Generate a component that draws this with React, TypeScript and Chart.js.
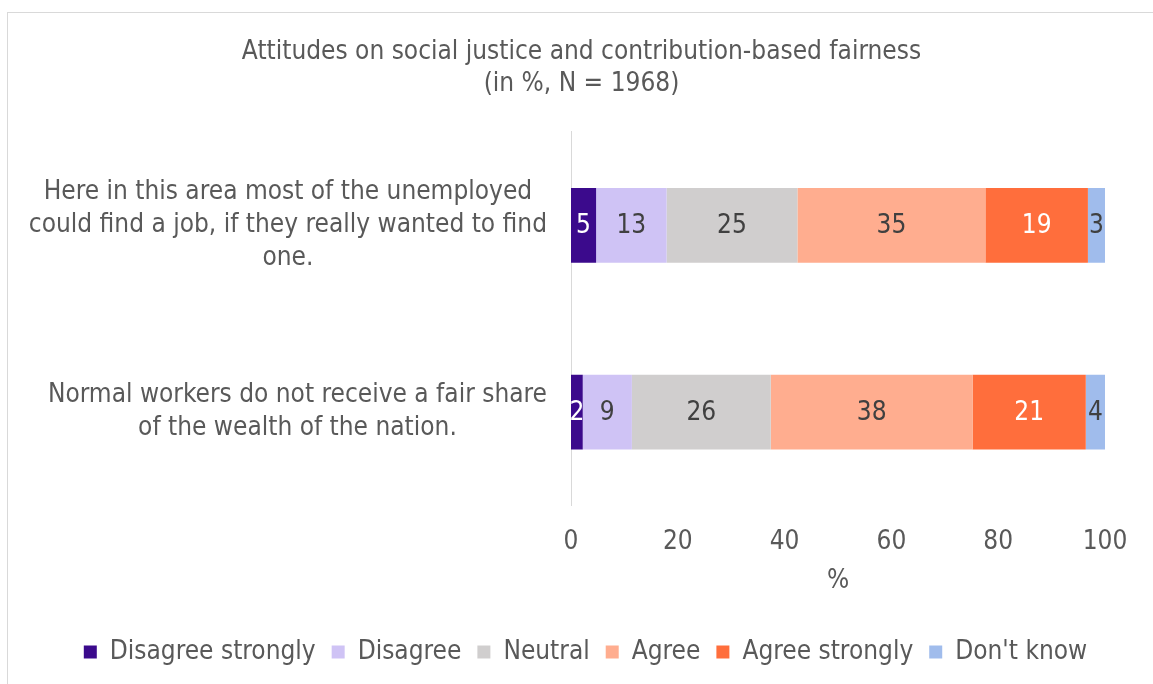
import React, { useEffect, useRef } from "react";
import { Chart, registerables } from "chart.js";

Chart.register(...registerables);

const categories: string[][] = [
  ["Here in this area most of the unemployed", "could find a job, if they really wanted to find", "one."],
  ["Normal workers do not receive a fair share", "of the wealth of the nation."],
];
const seriesNames = ["Disagree strongly", "Disagree", "Neutral", "Agree", "Agree strongly", "Don't know"];
const disagreeStrongly = [4.7, 2.2];
const disagree = [13.2, 9.2];
const neutral = [24.5, 26.0];
const agree = [35.2, 37.8];
const agreeStrongly = [19.2, 21.2];
const dontKnow = [3.2, 3.6];
const xTicks = [0, 20, 40, 60, 80, 100];
const titleLines = ["Attitudes on social justice and contribution-based fairness", "(in %, N = 1968)"];

const colors = ["#3B0A8C", "#CFC3F5", "#D0CECE", "#FFAD8F", "#FF6E3C", "#A0BCEC"];
const labelColors = ["#FFFFFF", "#404040", "#404040", "#404040", "#FFFFFF", "#404040"];
const FONT = "'DejaVu Sans Condensed', 'DejaVu Sans', sans-serif";
const TEXT = "#595959";

const valueLabels = {
  id: "valueLabels",
  afterDatasetsDraw(chart: any) {
    const ctx = chart.ctx;
    ctx.save();
    ctx.font = `26px ${FONT}`;
    ctx.textAlign = "center";
    ctx.textBaseline = "middle";
    chart.data.datasets.forEach((ds: any, di: number) => {
      const meta = chart.getDatasetMeta(di);
      meta.data.forEach((bar: any, i: number) => {
        const v = ds.data[i];
        ctx.fillStyle = labelColors[di];
        ctx.fillText(String(Math.round(v)), (bar.x + bar.base) / 2, bar.y + 1);
      });
    });
    ctx.restore();
  },
};

// Category labels: each multi-line block right-aligned next to the axis, lines centred within the block
const categoryLabels = {
  id: "categoryLabels",
  afterDraw(chart: any) {
    const ctx = chart.ctx;
    const scale = chart.scales.y;
    ctx.save();
    ctx.font = `26px ${FONT}`;
    ctx.fillStyle = TEXT;
    ctx.textAlign = "center";
    ctx.textBaseline = "middle";
    const lineH = 33;
    const right = scale.right - 24;
    (chart.data.labels as string[][]).forEach((lines, i) => {
      const y0 = scale.getPixelForTick(i);
      const w = Math.max(...lines.map((l) => ctx.measureText(l).width));
      const cx = right - w / 2;
      lines.forEach((l, j) => {
        ctx.fillText(l, cx, y0 + (j - (lines.length - 1) / 2) * lineH);
      });
    });
    ctx.restore();
  },
};

// Centre title and legend over the full (wider) chart object, as in the original
const shiftBlocks = {
  id: "shiftBlocks",
  afterLayout(chart: any) {
    const t = chart.titleBlock;
    if (t) {
      t.left += 29;
      t.right += 29;
    }
    const l = chart.legend;
    if (l) {
      l.left += 33;
      l.right += 33;
    }
  },
};

export default function App() {
  const ref = useRef<HTMLCanvasElement>(null);
  useEffect(() => {
    const allSeries = [disagreeStrongly, disagree, neutral, agree, agreeStrongly, dontKnow];
    const chart = new Chart(ref.current!, {
      type: "bar",
      data: {
        labels: categories,
        datasets: allSeries.map((d, i) => ({
          label: seriesNames[i],
          data: d,
          backgroundColor: colors[i],
          borderWidth: 0,
          barPercentage: 0.4,
          categoryPercentage: 1,
        })),
      },
      options: {
        indexAxis: "y",
        animation: false,
        responsive: false,
        layout: { padding: { top: 0, right: 48, bottom: 9, left: 0 } },
        plugins: {
          tooltip: { enabled: false },
          title: {
            display: true,
            text: titleLines,
            color: TEXT,
            font: { family: FONT, size: 26, weight: "normal", lineHeight: 1.23 },
            padding: { top: 36, bottom: 32 },
          },
          legend: {
            position: "bottom",
            labels: {
              color: TEXT,
              font: { family: FONT, size: 26 },
              boxWidth: 13,
              boxHeight: 13,
              padding: 16,
            },
          },
        },
        scales: {
          x: {
            stacked: true,
            min: 0,
            max: 100,
            afterBuildTicks: (s: any) => {
              s.ticks = xTicks.map((v) => ({ value: v }));
            },
            grid: { display: false },
            border: { display: false },
            ticks: { color: TEXT, font: { family: FONT, size: 26 }, padding: 13, maxRotation: 0 },
            title: {
              display: true,
              text: "%",
              color: TEXT,
              font: { family: FONT, size: 26 },
              padding: { top: -5, bottom: 26 },
            },
          },
          y: {
            stacked: true,
            grid: { display: false },
            border: { display: true, color: "#D9D9D9", width: 1 },
            afterFit: (s: any) => {
              s.width = 571;
            },
            ticks: { display: false },
          },
        },
      },
      plugins: [valueLabels, categoryLabels, shiftBlocks],
    });
    return () => chart.destroy();
  }, []);

  return (
    <div style={{ position: "fixed", left: 0, top: 0, width: 1153, height: 684, overflow: "hidden", background: "#fff" }}>
      <div
        style={{
          position: "absolute",
          left: 7,
          top: 12,
          width: 1200,
          height: 700,
          border: "1px solid #D9D9D9",
        }}
      />
      <canvas ref={ref} width={1153} height={684} style={{ position: "absolute", left: 0, top: 0, width: 1153, height: 684 }} />
    </div>
  );
}
